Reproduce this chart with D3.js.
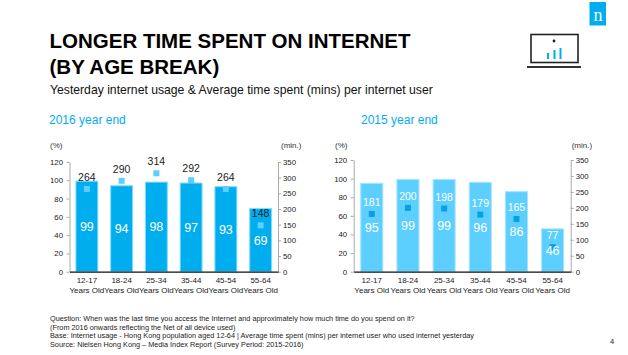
<!DOCTYPE html>
<html><head><meta charset="utf-8">
<script src="https://cdn.jsdelivr.net/npm/d3@7"></script>
<style>
html,body{margin:0;padding:0;background:#fff;overflow:hidden}
svg{display:block}
text{font-family:"Liberation Sans",Arial,sans-serif}
</style></head><body>
<svg id="c" width="628" height="355"></svg>
<script>
const categories = ["12-17","18-24","25-34","35-44","45-54","55-64"];
const categorySuffix = "Years Old";
const usage2016 = [99,94,98,97,93,69];
const minutes2016 = [264,290,314,292,264,148];
const usage2015 = [95,99,99,96,86,46];
const minutes2015 = [181,200,198,179,165,77];
const leftTicks = [0,20,40,60,80,100,120];
const rightTicks = [0,50,100,150,200,250,300,350];
const titleLines = ["LONGER TIME SPENT ON INTERNET","(BY AGE BREAK)"];
const subtitle = "Yesterday internet usage & Average time spent (mins) per internet user";
const footnotes = [
 "Question: When was the last time you access the Internet and approximately how much time do you spend on it?",
 "(From 2016 onwards reflecting the Net of all device used)",
 "Base: Internet usage - Hong Kong population aged 12-64 | Average time spent (mins) per internet user who used internet yesterday",
 "Source: Nielsen Hong Kong \u2013 Media Index Report (Survey Period: 2015-2016)"];
const svg = d3.select("#c");
const blue="#00aeef", light="#5ccfff";

titleLines.forEach((t,i)=>svg.append("text").attr("x",49.5).attr("y",47.5+i*26).attr("font-size",20.5).attr("font-weight","bold").attr("fill","#000").text(t));
svg.append("text").attr("x",50).attr("y",94).attr("font-size",12.2).attr("fill","#111").text(subtitle);
footnotes.forEach((t,i)=>svg.append("text").attr("x",50).attr("y",321+i*8.6).attr("font-size",7.3).attr("fill","#222").text(t));
svg.append("text").attr("x",610).attr("y",344).attr("font-size",7.5).attr("fill","#222").text("4");

function panel(o){
  const x=d3.scaleBand().domain(categories).range([o.left,o.right]).paddingInner(o.padIn).paddingOuter(o.padIn/2);
  const y=d3.scaleLinear().domain([0,120]).range([o.bottom,o.top]);
  const y2=d3.scaleLinear().domain([0,350]).range([o.bottom,o.top]);
  const g=svg.append("g");
  g.append("text").attr("x",o.titleX).attr("y",124).attr("font-size",12).attr("fill",blue).text(o.title);
  g.append("text").attr("x",o.pctX).attr("y",148).attr("font-size",8).attr("fill","#333").text("(%)");
  g.append("text").attr("x",o.minX).attr("y",148).attr("font-size",8).attr("fill","#333").text("(min.)");
  g.selectAll(".bar").data(o.usage).join("rect")
    .attr("x",(d,i)=>x(categories[i])).attr("width",x.bandwidth())
    .attr("y",d=>y(d)).attr("height",d=>o.bottom-y(d))
    .attr("fill",o.barColor).attr("stroke",o.edge).attr("stroke-width",1);
  const styleAxis=a=>{a.selectAll("path,line").attr("stroke","#aaa").attr("stroke-width",1);
    a.selectAll("text").attr("font-size",7.8).attr("fill","#222").style("font-family",'"Liberation Sans",Arial,sans-serif');};
  const la=g.append("g").attr("transform",`translate(${o.left},0)`).call(d3.axisLeft(y).tickValues(leftTicks).tickSize(3).tickSizeOuter(0).tickPadding(3.5));
  styleAxis(la);
  const ra=g.append("g").attr("transform",`translate(${o.right},0)`).call(d3.axisRight(y2).tickValues(rightTicks).tickSize(3).tickSizeOuter(0).tickPadding(2));
  styleAxis(ra);
  const ba=g.append("g").attr("transform",`translate(0,${o.bottom})`).call(d3.axisBottom(x).tickSize(0).tickPadding(6));
  ba.selectAll("path").attr("stroke","#111").attr("stroke-width",1.2);
  ba.selectAll("text").attr("font-size",8).attr("fill","#222").style("font-family",'"Liberation Sans",Arial,sans-serif')
    .each(function(){d3.select(this).append("tspan").attr("x",0).attr("dy","1.2em").text(categorySuffix);});
  const cx=i=>x(categories[i])+x.bandwidth()/2;
  g.selectAll(".pt").data(o.minutes).join("rect")
    .attr("x",(d,i)=>cx(i)-3).attr("y",d=>y2(d)-3).attr("width",6).attr("height",6).attr("fill",o.markColor);
  g.selectAll(".ul").data(o.usage).join("text")
    .attr("x",(d,i)=>cx(i)).attr("y",d=>y(d/2)+4.5).attr("text-anchor","middle").attr("font-size",12.5).attr("fill","#fff").text(d=>d);
  g.selectAll(".ml").data(o.minutes).join("text")
    .attr("x",(d,i)=>cx(i)).attr("y",d=>y2(d)-8).attr("text-anchor","middle").attr("font-size",10.5).attr("fill",o.labelColor).text(d=>d);
}
panel({left:69.5,right:278,top:162,bottom:271.7,padIn:0.37,pctX:50,minX:281,title:"2016 year end",titleX:49,usage:usage2016,minutes:minutes2016,barColor:blue,edge:"#7fdcff",markColor:"#5ccfff",labelColor:"#222"});
panel({left:353.7,right:570.7,top:160,bottom:271.7,padIn:0.39,pctX:335,minX:571.7,title:"2015 year end",titleX:361,usage:usage2015,minutes:minutes2015,barColor:light,edge:"#a5e5ff",markColor:"#0a9fe0",labelColor:"#fff"});

// Nielsen logo + laptop icon
svg.append("rect").attr("x",589.5).attr("y",2).attr("width",16.5).attr("height",23.5).attr("fill",blue);
svg.append("text").attr("x",598).attr("y",21).attr("text-anchor","middle").attr("font-size",18).attr("fill","#fff").style("font-family",'"Liberation Serif",serif').text("n");
svg.append("rect").attr("x",531).attr("y",34.5).attr("width",47).attr("height",28).attr("fill","#fff").attr("stroke","#222").attr("stroke-width",1.6);
svg.append("rect").attr("x",527).attr("y",66).attr("width",54).attr("height",2).attr("fill","#333");
svg.append("circle").attr("cx",554).attr("cy",41).attr("r",1.4).attr("fill","#222");
[[547,53,6],[553.5,50,9],[559.5,48,11]].forEach(b=>svg.append("rect").attr("x",b[0]).attr("y",b[1]).attr("width",2).attr("height",b[2]).attr("fill",blue));
</script>
</body></html>
